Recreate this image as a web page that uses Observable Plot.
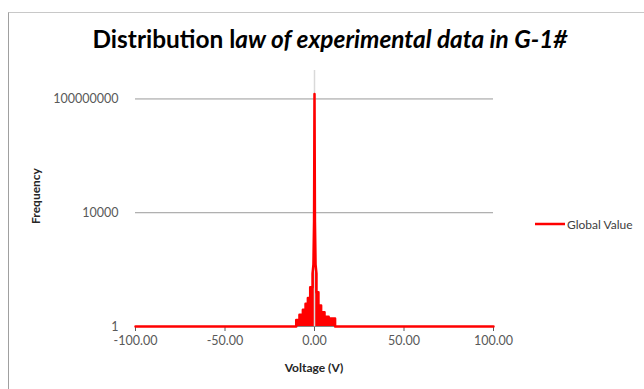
<!DOCTYPE html>
<html>
<head>
<meta charset="utf-8">
<script src="https://cdn.jsdelivr.net/npm/d3@7"></script>
<script src="https://cdn.jsdelivr.net/npm/@observablehq/plot@0.6"></script>
<style>
  body { margin: 0; background: #fff; }
  #wrap { position: relative; width: 644px; height: 389px; overflow: hidden; font-family: Lato, "Open Sans", sans-serif; }
  #frame { position: absolute; left: 8px; top: 12px; right: -2px; bottom: -2px; border-left: 1.5px solid #a0a0a0; border-top: 1.5px solid #c8c8c8; pointer-events: none; }
</style>
</head>
<body>
<div id="wrap"><div id="frame"></div></div>
<script>
// ---- data ----
const voltage   = [-100, -10.2, -10.2, -8.4, -8.4, -6.5, -6.5, -5.0, -5.0, -3.7, -3.7, -2.4, -2.4, -1.1, -1.1, -0.6, -0.25, 0, 0.25, 0.6, 1.1, 1.1, 2.2, 2.2, 3.7, 3.7, 5.6, 5.6, 7.9, 7.9, 11.5, 11.5, 100];
const frequency = [1, 1, 1.7, 1.7, 2.6, 2.6, 3.9, 3.9, 6.3, 6.3, 10, 10, 24, 24, 72, 150, 5000, 1.5e8, 5000, 150, 72, 16, 16, 5.5, 5.5, 3.2, 3.2, 2.2, 2.2, 1.9, 1.9, 1, 1];
const xTicks = [-100, -50, 0, 50, 100];
const yTicks = [1, 10000, 100000000];
const seriesName = "Global Value";
const titleUpright = "Distribution l";
const titleItalic = "aw of experimental data in G-1#";
const xLabel = "Voltage (V)";
const yLabel = "Frequency";

const data = voltage.map((v, i) => ({v, f: frequency[i]}));
const red = "#ff0000";

const chart = Plot.plot({
  width: 644,
  height: 389,
  marginLeft: 135,
  marginRight: 151,
  marginTop: 70,
  marginBottom: 63,
  style: {fontFamily: "Lato, 'Open Sans', sans-serif", fontSize: "12.5px", color: "#595959", background: "transparent", overflow: "visible"},
  x: {domain: [-100, 100], ticks: xTicks, tickFormat: d => d.toFixed(2), label: null, tickSize: 5, tickPadding: 5},
  y: {type: "log", domain: [1, 1e9], ticks: yTicks, tickFormat: d => String(d), label: null, tickSize: 0, tickPadding: 17},
  marks: [
    Plot.gridY(yTicks.slice(1), {stroke: "#9a9a9a", strokeOpacity: 1}),
    Plot.areaY(data, {x: "v", y1: 1, y2: "f", fill: red}),
    Plot.ruleX([0], {y1: 1, y2: 1e9, stroke: "#d9d9d9", strokeWidth: 1.5}),
    Plot.ruleY([1], {stroke: "#868686"}),
    Plot.lineY(data, {x: "v", y: "f", stroke: red, strokeWidth: 2.5})
  ]
});

document.getElementById("wrap").appendChild(chart);

const svg = d3.select(chart);
// title
const t = svg.append("text")
  .attr("x", 330).attr("y", 48)
  .attr("text-anchor", "middle")
  .attr("textLength", 475).attr("lengthAdjust", "spacingAndGlyphs")
  .style("font-family", "Lato, 'Open Sans', sans-serif")
  .style("font-size", "25px").style("font-weight", "bold").style("fill", "#000");
t.append("tspan").text(titleUpright);
t.append("tspan").style("font-style", "italic").text(titleItalic);

// axis titles
svg.append("text")
  .attr("x", 314).attr("y", 372).attr("text-anchor", "middle")
  .style("font-size", "12px").style("font-weight", "bold").style("fill", "#262626")
  .text(xLabel);
svg.append("text")
  .attr("transform", "translate(40,196) rotate(-90)").attr("text-anchor", "middle")
  .style("font-size", "12px").style("font-weight", "bold").style("fill", "#262626")
  .text(yLabel);

// legend
svg.append("line").attr("x1", 535).attr("x2", 565).attr("y1", 224).attr("y2", 224)
  .attr("stroke", red).attr("stroke-width", 2.5);
svg.append("text").attr("x", 567).attr("y", 228.5).attr("text-anchor", "start")
  .style("font-size", "12px").style("fill", "#404040")
  .text(seriesName);
</script>
</body>
</html>
